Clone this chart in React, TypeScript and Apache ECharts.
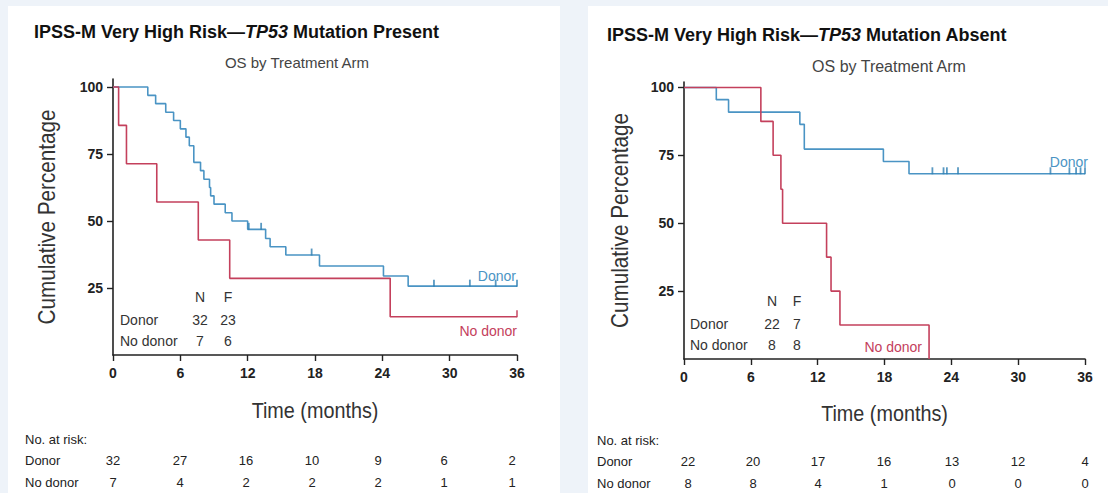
import React, { useEffect, useRef } from 'react';
import * as echarts from 'echarts';

// ---------- data ----------
const timeTicks = [0, 6, 12, 18, 24, 30, 36];
const pctTicks = [25, 50, 75, 100];

// TP53 mutation present (left panel)
const presentDonorCurve = [
  [0, 100], [3.1, 96.9], [3.8, 93.8], [4.7, 90.6], [5.4, 87.5], [6.0, 84.4], [6.5, 81.3],
  [6.8, 78.1], [7.2, 71.9], [7.8, 68.8], [8.1, 65.6], [8.6, 62.5], [8.7, 59.4], [9.0, 56.3],
  [10.0, 53.1], [10.6, 50.0], [12.0, 46.9], [13.6, 43.5], [14.0, 40.4], [15.4, 37.3],
  [18.4, 33.2], [24.1, 29.5], [26.3, 25.7], [36, 25.7],
];
const presentDonorCensor = [12.1, 13.2, 17.7, 28.6, 31.8, 34.1, 36];
const presentNoDonorCurve = [
  [0, 100], [0.5, 85.7], [1.2, 71.4], [3.9, 57.1], [7.6, 42.9], [10.4, 28.6], [24.7, 14.3], [36, 14.3],
];
const presentNoDonorCensor = [36];
const presentAtRiskDonor = [32, 27, 16, 10, 9, 6, 2];
const presentAtRiskNoDonor = [7, 4, 2, 2, 2, 1, 1];
const presentSummary = [['Donor', '32', '23'], ['No donor', '7', '6']];

// TP53 mutation absent (right panel)
const absentDonorCurve = [
  [0, 100], [2.9, 95.5], [4.0, 90.9], [10.4, 86.4], [10.8, 77.3], [17.9, 72.7], [20.2, 68.2], [36, 68.2],
];
const absentDonorCensor = [22.3, 23.3, 23.6, 24.6, 32.9, 34.6, 35.2, 35.6, 36];
const absentNoDonorCurve = [
  [0, 100], [6.9, 87.5], [8.0, 75], [8.7, 62.5], [8.85, 50], [12.8, 37.5], [13.2, 25], [14.0, 12.5], [22.0, 0],
];
const absentNoDonorCensor: number[] = [];
const absentAtRiskDonor = [22, 20, 17, 16, 13, 12, 4];
const absentAtRiskNoDonor = [8, 8, 4, 1, 0, 0, 0];
const absentSummary = [['Donor', '22', '7'], ['No donor', '8', '8']];

// ---------- style ----------
const BLUE = '#4a94c4';
const BLUE_DARK = '#2f7fb3';
const RED = '#c4405c';
const INK = '#222';
const FONT = '"Liberation Sans", Arial, Helvetica, sans-serif';

const levelAt = (curve: number[][], t: number) => {
  let v = curve[0][1];
  for (const [x, y] of curve) if (x <= t) v = y;
  return v;
};

type Panel = {
  title: string;
  titleX: number;
  titleY: number;
  subX: number;
  subY: number;
  subSize: number;
  grid: { left: number; top: number; width: number; height: number };
  yMax: number;
  yTitleX: number;
  xTitleY: number;
  donor: number[][];
  donorCensor: number[];
  noDonor: number[][];
  noDonorCensor: number[];
  atRiskDonor: number[];
  atRiskNoDonor: number[];
  atRiskX: number[];
  tableX: number;
  tableY: number;
  summary: string[][];
  sumX: number;
  sumY: number;
  nX: number;
  fX: number;
  donorLabel: [number, number];
  noDonorLabel: [number, number];
};

const panels: Panel[] = [
  {
    title: 'IPSS-M Very High Risk—{it|TP53} Mutation Present',
    titleX: 34, titleY: 32, subX: 297, subY: 62, subSize: 15,
    grid: { left: 113, top: 79, width: 404, height: 276 }, yMax: 103,
    yTitleX: 47, xTitleY: 410,
    donor: presentDonorCurve, donorCensor: presentDonorCensor,
    noDonor: presentNoDonorCurve, noDonorCensor: presentNoDonorCensor,
    atRiskDonor: presentAtRiskDonor, atRiskNoDonor: presentAtRiskNoDonor,
    atRiskX: [113, 180, 246, 312, 378, 444, 512],
    tableX: 25, tableY: 439,
    summary: presentSummary, sumX: 120, sumY: 297, nX: 200, fX: 228,
    donorLabel: [516, 276], noDonorLabel: [517, 331],
  },
  {
    title: 'IPSS-M Very High Risk—{it|TP53} Mutation Absent',
    titleX: 607, titleY: 35, subX: 889, subY: 66, subSize: 16,
    grid: { left: 684, top: 82, width: 401, height: 277 }, yMax: 102,
    yTitleX: 620, xTitleY: 413,
    donor: absentDonorCurve, donorCensor: absentDonorCensor,
    noDonor: absentNoDonorCurve, noDonorCensor: absentNoDonorCensor,
    atRiskDonor: absentAtRiskDonor, atRiskNoDonor: absentAtRiskNoDonor,
    atRiskX: [688, 753, 818, 884, 952, 1018, 1085],
    tableX: 597, tableY: 440,
    summary: absentSummary, sumX: 690, sumY: 301, nX: 772, fX: 797,
    donorLabel: [1088, 162], noDonorLabel: [922, 347],
  },
];

function txt(x: number, y: number, text: string, extra: any = {}, props: any = {}) {
  return {
    type: 'text', x, y, silent: true, ...props,
    style: {
      text, fill: INK, fontFamily: 'Liberation Sans, Arial, sans-serif', fontSize: 14,
      textAlign: 'left', textVerticalAlign: 'middle', ...extra,
    },
  };
}

export default function App() {
  const ref = useRef<HTMLDivElement>(null);
  useEffect(() => {
    document.body.style.margin = '0';
    if (!ref.current) return;
    const chart = echarts.init(ref.current, undefined, { renderer: 'svg' });

    const grids: any[] = [];
    const xAxes: any[] = [];
    const yAxes: any[] = [];
    const series: any[] = [];
    const graphics: any[] = [
      { type: 'rect', shape: { x: 0, y: 0, width: 1108, height: 493 }, style: { fill: '#eef3f9' }, silent: true, z: -10 },
      { type: 'rect', shape: { x: 8, y: 6, width: 552, height: 487 }, style: { fill: '#ffffff' }, silent: true, z: -9 },
      { type: 'rect', shape: { x: 588, y: 6, width: 520, height: 487 }, style: { fill: '#ffffff' }, silent: true, z: -9 },
    ];

    panels.forEach((p, i) => {
      grids.push({ ...p.grid, containLabel: false });
      xAxes.push({
        type: 'value', gridIndex: i, min: 0, max: 36, interval: 6,
        axisLine: { show: true, onZero: false, lineStyle: { color: INK, width: 1.6 } },
        axisTick: { show: true, length: 6, inside: false, lineStyle: { color: INK, width: 1.4 } },
        axisLabel: { color: INK, fontSize: 14, fontWeight: 'bold', margin: 11, fontFamily: FONT },
        splitLine: { show: false },
      });
      yAxes.push({
        type: 'value', gridIndex: i, min: 0, max: p.yMax,
        axisLine: { show: true, onZero: false, lineStyle: { color: INK, width: 1.6 } },
        axisTick: { show: true, length: 6, inside: false, customValues: pctTicks, lineStyle: { color: INK, width: 1.4 } },
        axisLabel: { color: INK, fontSize: 14, fontWeight: 'bold', margin: 10, customValues: pctTicks, fontFamily: FONT },
        splitLine: { show: false },
      });
      series.push({
        type: 'line', xAxisIndex: i, yAxisIndex: i, step: 'end', data: p.donor, showSymbol: false,
        lineStyle: { color: BLUE, width: 1.6 }, z: 3,
      });
      series.push({
        type: 'line', xAxisIndex: i, yAxisIndex: i, step: 'end', data: p.noDonor, showSymbol: false,
        lineStyle: { color: RED, width: 1.6 }, z: 4,
      });
      series.push({
        type: 'scatter', xAxisIndex: i, yAxisIndex: i,
        data: p.donorCensor.map((t) => [t, levelAt(p.donor, t)]),
        symbol: 'rect', symbolSize: [1.8, 7], symbolOffset: [0, -3],
        itemStyle: { color: BLUE_DARK }, z: 5,
      });
      series.push({
        type: 'scatter', xAxisIndex: i, yAxisIndex: i,
        data: p.noDonorCensor.map((t) => [t, levelAt(p.noDonor, t)]),
        symbol: 'rect', symbolSize: [1.8, 7], symbolOffset: [0, -3],
        itemStyle: { color: RED }, z: 5,
      });

      // titles
      graphics.push(txt(p.titleX, p.titleY, p.title, {
        fontSize: 18, fontWeight: 'bold', fill: '#111',
        rich: { it: { fontStyle: 'italic', fontWeight: 'bold', fontSize: 18, fill: '#111', fontFamily: 'Liberation Sans, Arial, sans-serif' } },
      }));
      graphics.push(txt(p.subX, p.subY, 'OS by Treatment Arm', { fontSize: p.subSize, fill: '#444', textAlign: 'center' }));

      // axis titles
      const gy = p.grid.top + p.grid.height / 2;
      graphics.push(txt(p.yTitleX, gy, 'Cumulative Percentage',
        { fontSize: 23, fill: '#333', textAlign: 'center' },
        { rotation: Math.PI / 2, scaleX: 0.9 }));
      graphics.push(txt(p.grid.left + p.grid.width / 2, p.xTitleY, 'Time (months)',
        { fontSize: 22, fill: '#333', textAlign: 'center' },
        { scaleX: 0.9 }));

      // N / F summary
      graphics.push(txt(p.nX, p.sumY, 'N', { textAlign: 'center', fill: '#333' }));
      graphics.push(txt(p.fX, p.sumY, 'F', { textAlign: 'center', fill: '#333' }));
      p.summary.forEach((row, r) => {
        const y = p.sumY + 23 + r * 21;
        graphics.push(txt(p.sumX, y, row[0], { fill: '#333' }));
        graphics.push(txt(p.nX, y, row[1], { textAlign: 'center', fill: '#333' }));
        graphics.push(txt(p.fX, y, row[2], { textAlign: 'center', fill: '#333' }));
      });

      // curve labels
      graphics.push(txt(p.donorLabel[0], p.donorLabel[1], 'Donor', { fill: BLUE, textAlign: 'right' }));
      graphics.push(txt(p.noDonorLabel[0], p.noDonorLabel[1], 'No donor', { fill: RED, textAlign: 'right' }));

      // at-risk table
      graphics.push(txt(p.tableX, p.tableY, 'No. at risk:', { fill: '#222', fontSize: 13 }));
      graphics.push(txt(p.tableX, p.tableY + 21, 'Donor', { fill: '#222', fontSize: 13 }));
      graphics.push(txt(p.tableX, p.tableY + 43, 'No donor', { fill: '#222', fontSize: 13 }));
      timeTicks.forEach((_, k) => {
        graphics.push(txt(p.atRiskX[k], p.tableY + 21, String(p.atRiskDonor[k]), { textAlign: 'center', fill: '#222', fontSize: 13 }));
        graphics.push(txt(p.atRiskX[k], p.tableY + 43, String(p.atRiskNoDonor[k]), { textAlign: 'center', fill: '#222', fontSize: 13 }));
      });
    });

    chart.setOption({
      animation: false,
      textStyle: { fontFamily: FONT },
      grid: grids,
      xAxis: xAxes,
      yAxis: yAxes,
      series,
      graphic: { elements: graphics },
    });
    return () => chart.dispose();
  }, []);
  return <div ref={ref} style={{ width: 1108, height: 493 }} />;
}
